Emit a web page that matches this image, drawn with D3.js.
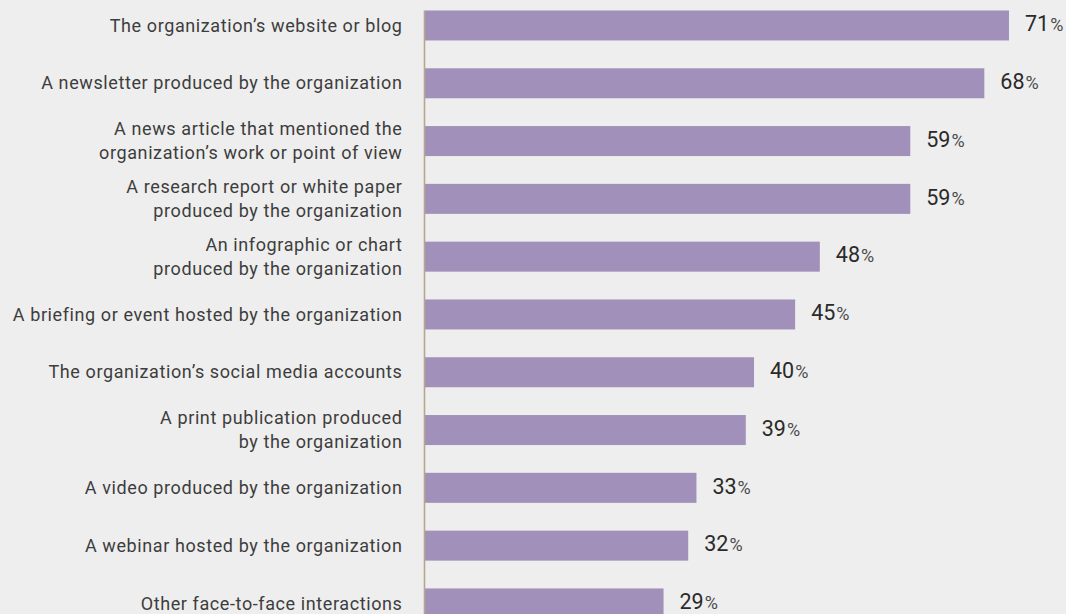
<!DOCTYPE html>
<html>
<head>
<meta charset="utf-8">
<script src="https://cdn.jsdelivr.net/npm/d3@7"></script>
<style>
  html, body { margin: 0; padding: 0; background: #eeeeee; }
  svg { display: block; }
</style>
</head>
<body>
<svg id="chart" width="1066" height="614"></svg>
<script>
// Where respondents encountered the organization's content (share of respondents, %)
const categories = [
  ["The organization\u2019s website or blog"],
  ["A newsletter produced by the organization"],
  ["A news article that mentioned the", "organization\u2019s work or point of view"],
  ["A research report or white paper", "produced by the organization"],
  ["An infographic or chart", "produced by the organization"],
  ["A briefing or event hosted by the organization"],
  ["The organization\u2019s social media accounts"],
  ["A print publication produced", "by the organization"],
  ["A video produced by the organization"],
  ["A webinar hosted by the organization"],
  ["Other face-to-face interactions"]
];
const values = [71, 68, 59, 59, 48, 45, 40, 39, 33, 32, 29];

const width = 1066, height = 614;
const x0 = 425;
const svg = d3.select("#chart");

svg.append("rect").attr("width", width).attr("height", height).attr("fill", "#eeeeee");

const x = d3.scaleLinear().domain([0, 71]).range([x0, 1009]);
const y = d3.scaleBand()
  .domain(d3.range(categories.length))
  .range([-3.45, 632.35])
  .paddingInner(0.481)
  .paddingOuter(0.241);

const rows = svg.append("g").selectAll("g")
  .data(values)
  .join("g");

rows.append("rect")
  .attr("x", x(0))
  .attr("y", (d, i) => y(i))
  .attr("width", d => x(d) - x(0))
  .attr("height", y.bandwidth())
  .attr("fill", "#a190b9");

// Category labels, right-aligned left of the axis
const lineH = 24;
rows.append("text")
  .attr("text-anchor", "end")
  .attr("font-family", "Roboto, sans-serif")
  .attr("font-size", 18)
  .attr("letter-spacing", "0.6px")
  .attr("fill", "#3d3d3d")
  .each(function(d, i) {
    const lines = categories[i];
    const cy = y(i) + y.bandwidth() / 2;
    const first = cy - (lines.length - 1) * lineH / 2;
    d3.select(this).selectAll("tspan")
      .data(lines)
      .join("tspan")
      .attr("x", 402.5)
      .attr("y", (l, k) => first + k * lineH)
      .attr("dy", "0.34em")
      .text(l => l);
  });

// Value labels
const vt = rows.append("text")
  .attr("x", d => x(d) + 16)
  .attr("y", (d, i) => y(i) + y.bandwidth() / 2)
  .attr("dy", "0.36em")
  .attr("font-family", "Roboto, sans-serif")
  .attr("fill", "#2a2a2a");
vt.append("tspan").attr("font-size", 21.5).text(d => d);
vt.append("tspan").attr("font-size", 18).attr("dx", 1).attr("fill", "#4a4a4a").text("%");

// Baseline axis
svg.append("line")
  .attr("x1", x0 - 0.5).attr("x2", x0 - 0.5)
  .attr("y1", y(0)).attr("y2", height)
  .attr("stroke", "#b8a58c")
  .attr("stroke-width", 1.6);
</script>
</body>
</html>
